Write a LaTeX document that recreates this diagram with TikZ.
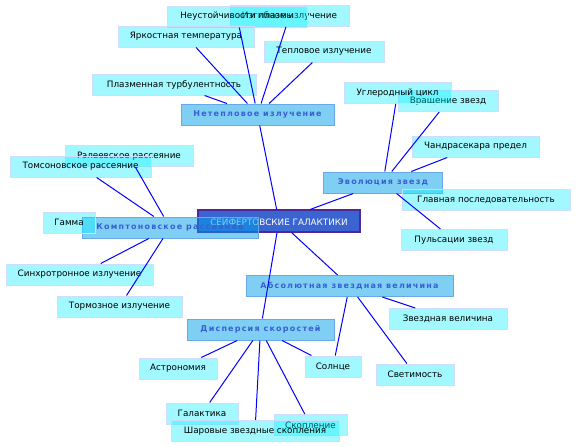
\documentclass[tikz,border=0pt]{standalone}
\usepackage{fontspec}
\setmainfont{DejaVu Sans}
\newfontfamily\branchfont[LetterSpace=15]{DejaVu Sans}
\usepackage{xcolor}

\definecolor{leaffill}{RGB}{0,240,255}
\definecolor{leafline}{RGB}{205,220,255}
\definecolor{branchfill}{RGB}{0,160,235}
\definecolor{branchline}{RGB}{105,170,230}
\definecolor{branchtext}{RGB}{55,95,210}
\definecolor{rootfill}{RGB}{58,100,208}
\definecolor{rootline}{RGB}{80,40,150}

\begin{document}
\begin{tikzpicture}[x=1pt, y=-1pt,
    leaf/.style={draw=leafline, line width=1pt, fill=leaffill, fill opacity=0.37, text opacity=1,
        minimum height=21, inner sep=0pt, font=\fontsize{8.8}{10}\selectfont},
    branch/.style={draw=branchline, line width=1pt, fill=branchfill, fill opacity=0.5, text opacity=1,
        text=branchtext, minimum height=21, inner sep=0pt, font=\fontsize{8}{10}\branchfont\bfseries},
    root/.style={draw=rootline, line width=1.2pt, fill=rootfill, text=white,
        minimum height=22, inner sep=0pt, font=\fontsize{8.8}{10}\selectfont},
    link/.style={blue, line width=1pt}]
    \useasboundingbox (0,0) rectangle (576,447);
    % center
    \node[root, minimum width=162] (sey) at (279,221) {СЕЙФЕРТОВСКИЕ ГАЛАКТИКИ};
    % main branches
    \node[branch, minimum width=153] (neteplo) at (257.5,114.5) {Нетепловое излучение};
    \node[branch, minimum width=119] (evol) at (383,182.5) {Эволюция звезд};
    \node[branch, minimum width=176] (kompt) at (170,227.5) {Комптоновское рассеяние};
    \node[branch, minimum width=207] (absol) at (349.5,286) {Абсолютная звездная величина};
    \node[branch, minimum width=147] (disp) at (260.5,329.5) {Дисперсия скоростей};
    % leaves
    \node[leaf, minimum width=119] (izgib) at (289.5,16) {Изгибное излучение};
    \node[leaf, minimum width=140] (neust) at (237,16.5) {Неустойчивости плазмы};
    \node[leaf, minimum width=136] (yark) at (186,36.5) {Яркостная температура};
    \node[leaf, minimum width=120] (teplo) at (324,51.5) {Тепловое излучение};
    \node[leaf, minimum width=164] (plazm) at (174,84.5) {Плазменная турбулентность};
    \node[leaf, minimum width=128] (rel) at (129,156) {Рэлеевское рассеяние};
    \node[leaf, minimum width=141] (toms) at (80.5,166.5) {Томсоновское рассеяние};
    \node[leaf, minimum width=52] (gamma) at (69,222.5) {Гамма};
    \node[leaf, minimum width=147] (sinh) at (79.5,274.5) {Синхротронное излучение};
    \node[leaf, minimum width=125] (torm) at (119.5,306.5) {Тормозное излучение};
    \node[leaf, minimum width=100] (vrash) at (448,101) {Вращение звезд};
    \node[leaf, minimum width=107] (uglerod) at (397.5,93) {Углеродный цикл};
    \node[leaf, minimum width=127] (chandra) at (475.5,146.5) {Чандрасекара предел};
    \node[leaf, minimum width=168] (glav) at (486,199.5) {Главная последовательность};
    \node[leaf, minimum width=106] (puls) at (454,240) {Пульсации звезд};
    \node[leaf, minimum width=118] (zvvel) at (448,319) {Звездная величина};
    \node[leaf, minimum width=78] (svet) at (415,374.5) {Светимость};
    \node[leaf, minimum width=56] (solnce) at (333,366.5) {Солнце};
    \node[leaf, minimum width=78] (astro) at (178,368.5) {Астрономия};
    \node[leaf, minimum width=72] (galakt) at (202,413.5) {Галактика};
    \node[leaf, minimum width=73] (skopl) at (310.5,425) {Скопление};
    \node[leaf, minimum width=168] (sharov) at (255,431) {Шаровые звездные скопления};
    % links
    \draw[link] (sey) -- (neteplo);
    \draw[link] (sey) -- (evol);
    \draw[link] (sey) -- (absol);
    \draw[link] (sey) -- (disp);
    \draw[link] (neteplo) -- (izgib);
    \draw[link] (neteplo) -- (neust);
    \draw[link] (neteplo) -- (yark);
    \draw[link] (neteplo) -- (teplo);
    \draw[link] (neteplo) -- (plazm);
    \draw[link] (kompt) -- (rel);
    \draw[link] (kompt) -- (toms);
    \draw[link] (kompt) -- (sinh);
    \draw[link] (kompt) -- (torm);
    \draw[link] (evol) -- (vrash);
    \draw[link] (evol) -- (uglerod);
    \draw[link] (evol) -- (chandra);
    \draw[link] (evol) -- (puls);
    \draw[link] (absol) -- (zvvel);
    \draw[link] (absol) -- (svet);
    \draw[link] (absol) -- (solnce);
    \draw[link] (disp) -- (solnce);
    \draw[link] (disp) -- (astro);
    \draw[link] (disp) -- (galakt);
    \draw[link] (disp) -- (skopl);
    \draw[link] (disp) -- (sharov);
\end{tikzpicture}
\end{document}
